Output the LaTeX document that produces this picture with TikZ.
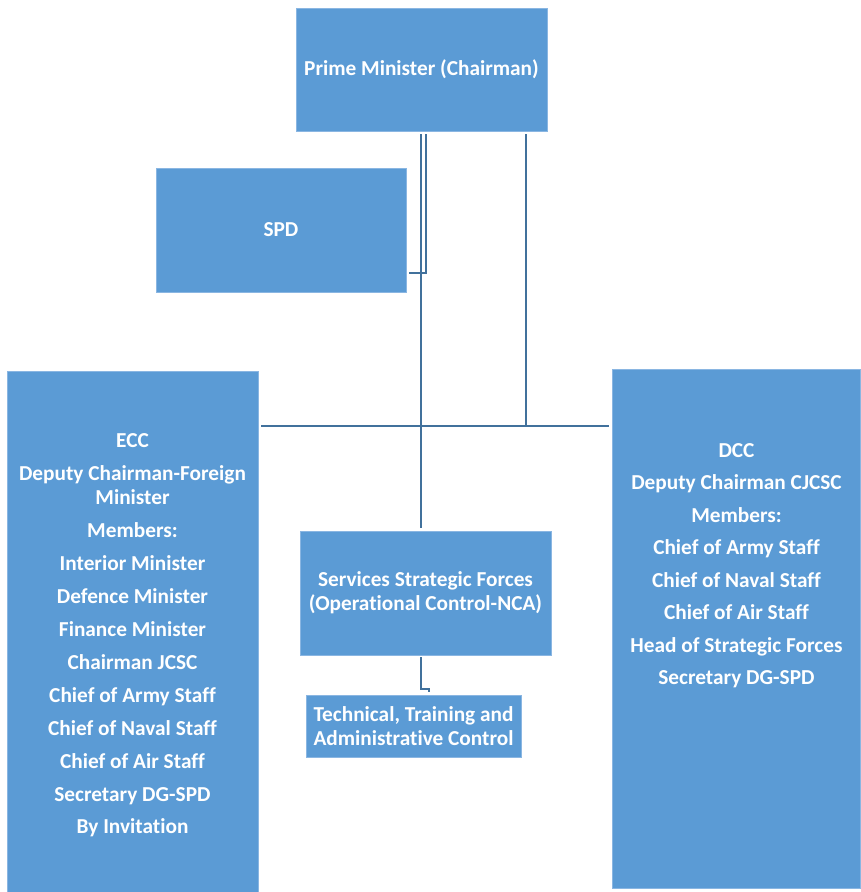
\documentclass[tikz,border=0pt]{standalone}
\usepackage{fontspec}
\setmainfont[Ligatures=NoCommon]{Carlito}
\usetikzlibrary{calc}
\definecolor{boxblue}{HTML}{5B9BD5}
\definecolor{boxedge}{HTML}{8AB6E2}
\definecolor{linkblue}{HTML}{41719C}
\begin{document}
\begin{tikzpicture}[x=1pt,y=-1pt,
  box/.style={fill=boxblue, draw=boxedge, line width=0.8pt, inner sep=0pt},
  txt/.style={text=white, font=\fontsize{21.3}{24}\selectfont\bfseries, align=center, inner sep=0pt},
  conn/.style={draw=linkblue, line width=2.8pt}]
\useasboundingbox (0,0) rectangle (860,892);

% boxes
\node[box,txt,minimum width=251pt,minimum height=123pt] (pm) at (421.5,69.5) {Prime Minister (Chairman)};
\node[box,txt,minimum width=250pt,minimum height=124pt] (spd) at (281,230) {SPD};
\node[box,txt,minimum width=251pt,minimum height=124pt] (ss) at (425.5,593) {Services Strategic Forces\\(Operational Control-NCA)};
\node[box,txt,minimum width=215pt,minimum height=62pt] (tech) at (413.5,726) {Technical, Training and\\Administrative Control};
\node[box,minimum width=251pt,minimum height=524pt] (ecc) at (132.5,633) {};
\node[box,minimum width=248pt,minimum height=519pt] (dcc) at (736,628.5) {};

\node[txt] (ecctext) at (132.5,635) {ECC\\[9pt]Deputy Chairman-Foreign\\Minister\\[9pt]Members:\\[9pt]Interior Minister\\[9pt]Defence Minister\\[9pt]Finance Minister\\[9pt]Chairman JCSC\\[9pt]Chief of Army Staff\\[9pt]Chief of Naval Staff\\[9pt]Chief of Air Staff\\[9pt]Secretary DG-SPD\\[8.5pt]By Invitation};
\node[txt] (dcctext) at (736.5,565.5) {DCC\\[8.5pt]Deputy Chairman CJCSC\\[8.5pt]Members:\\[8.5pt]Chief of Army Staff\\[8.5pt]Chief of Naval Staff\\[8.5pt]Chief of Air Staff\\[8.5pt]Head of Strategic Forces\\[8.5pt]Secretary DG-SPD};

% junctions
\coordinate (j1) at (421,426);
\coordinate (j2) at (526,426);

% connectors
\draw[conn] ([xshift=-0.5pt,yshift=-3pt]pm.south) -- ([xshift=-4.5pt,yshift=3pt]ss.north);
\draw[conn] ([xshift=4.5pt,yshift=-3pt]pm.south) |- ([xshift=3pt,yshift=-43pt]spd.east);
\draw[conn] ([xshift=104.5pt,yshift=-3pt]pm.south) |- (j1);
\draw[conn] (j1) -- ($(j1 -| ecc.east)+(3,0)$);
\draw[conn] (j2) -- ($(j2 -| dcc.west)+(-3,0)$);
\draw[conn,line width=2pt] ([xshift=-4.5pt,yshift=-2pt]ss.south) -- ++(0,32) -| ([xshift=15pt,yshift=3pt]tech.north);
\end{tikzpicture}
\end{document}
